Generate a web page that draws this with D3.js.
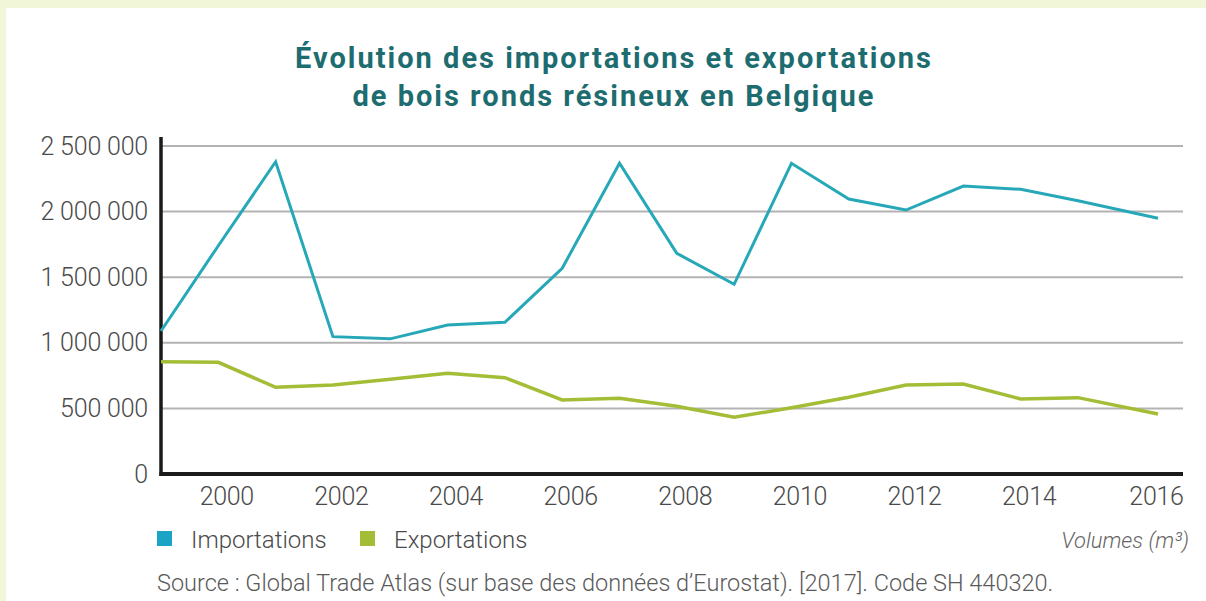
<!DOCTYPE html>
<html>
<head>
<meta charset="utf-8">
<script src="https://cdn.jsdelivr.net/npm/d3@7"></script>
<style>
  html, body { margin: 0; padding: 0; background: #f2f6d9; }
  svg { display: block; }
</style>
</head>
<body>
<svg id="chart" width="1206" height="601"></svg>
<script>
// ---- data ----
const years = [1999, 2000, 2001, 2002, 2003, 2004, 2005, 2006, 2007, 2008, 2009, 2010, 2011, 2012, 2013, 2014, 2015, 2016];
const importations = [1090000, 1740000, 2380000, 1047000, 1030000, 1136000, 1156000, 1568000, 2368000, 1682000, 1446000, 2368000, 2096000, 2012000, 2195000, 2170000, 2083000, 1949000];
const exportations = [856000, 851000, 661000, 678000, 722000, 767000, 734000, 564000, 577000, 516000, 432000, 505000, 585000, 678000, 686000, 572000, 582000, 457000];
const yTicks = [0, 500000, 1000000, 1500000, 2000000, 2500000];
const xTicks = [2000, 2002, 2004, 2006, 2008, 2010, 2012, 2014, 2016];
const seriesNames = ["Importations", "Exportations"];
const titleLines = ["Évolution des importations et exportations", "de bois ronds résineux en Belgique"];
const unitLabel = "Volumes (m³)";
const sourceText = "Source : Global Trade Atlas (sur base des données d’Eurostat). [2017]. Code SH 440320.";

(function () {
// ---- styles ----
const colImp = "#26a8b8";
const colExp = "#a4bd36";
const colTitle = "#1d6c70";
const colText = "#4a4a4a";
const fontFam = "'Roboto', 'Liberation Sans', sans-serif";

const svg = d3.select("#chart");

// white panel
svg.append("rect").attr("x", 6).attr("y", 8).attr("width", 1200).attr("height", 593).attr("fill", "#ffffff");

const mLeft = 161, mRight = 1183, mTop = 146, mBottom = 474;

const x = d3.scaleLinear()
  .domain([1999, 2015, 2016])
  .range([mLeft, 1078, 1158]);
const y = d3.scaleLinear().domain([0, 2500000]).range([mBottom, mTop]);

// title
svg.append("g").selectAll("text").data(titleLines).join("text")
  .attr("x", 614).attr("y", (d, i) => 68 + i * 38)
  .attr("text-anchor", "middle")
  .attr("font-family", fontFam).attr("font-weight", 700)
  .attr("font-size", 29).attr("fill", colTitle)
  .attr("letter-spacing", 2)
  .text(d => d);

// gridlines
svg.append("g").selectAll("line").data(yTicks.filter(d => d > 0)).join("line")
  .attr("x1", mLeft).attr("x2", mRight)
  .attr("y1", d => y(d)).attr("y2", d => y(d))
  .attr("stroke", "#b3b3b3").attr("stroke-width", 2);

// y axis
const yAxis = svg.append("g").attr("transform", `translate(${mLeft},0)`)
  .call(d3.axisLeft(y).tickValues(yTicks).tickSize(0).tickPadding(13)
    .tickFormat(d => d3.format(",")(d).replace(/,/g, " ")));
yAxis.select(".domain").remove();
yAxis.selectAll("text")
  .attr("font-family", fontFam).attr("font-weight", 300)
  .attr("font-size", 25).attr("fill", colText).attr("letter-spacing", -0.2);
svg.append("line").attr("x1", mLeft).attr("x2", mLeft).attr("y1", 137).attr("y2", mBottom + 2)
  .attr("stroke", "#1a1a1a").attr("stroke-width", 3.5);

// x axis
const xAxis = svg.append("g").attr("transform", `translate(0,${mBottom})`)
  .call(d3.axisBottom(x).tickValues(xTicks).tickSize(0).tickPadding(13).tickFormat(d3.format("d")));
xAxis.select(".domain").remove();
xAxis.selectAll("text")
  .attr("font-family", fontFam).attr("font-weight", 300)
  .attr("font-size", 25).attr("fill", colText).attr("letter-spacing", -0.3)
  .attr("dx", d => d === 2016 ? -2 : 8);
svg.append("line").attr("x1", mLeft - 1.5).attr("x2", mRight).attr("y1", mBottom).attr("y2", mBottom)
  .attr("stroke", "#1a1a1a").attr("stroke-width", 4);

// lines
const line = d3.line().x((d, i) => x(years[i])).y(d => y(d));
svg.append("path").datum(exportations).attr("d", line)
  .attr("fill", "none").attr("stroke", colExp).attr("stroke-width", 3.5).attr("stroke-linejoin", "miter");
svg.append("path").datum(importations).attr("d", line)
  .attr("fill", "none").attr("stroke", colImp).attr("stroke-width", 3).attr("stroke-linejoin", "miter");

// legend
const legendX = [157, 360];
const lg = svg.append("g").selectAll("g").data(seriesNames).join("g")
  .attr("transform", (d, i) => `translate(${legendX[i]},531)`);
lg.append("rect").attr("width", 15).attr("height", 15)
  .attr("fill", (d, i) => i === 0 ? "#1ba4c6" : colExp);
lg.append("text").attr("x", 34).attr("y", 16.5)
  .attr("font-family", fontFam).attr("font-weight", 300)
  .attr("font-size", 24).attr("fill", colText)
  .text(d => d);

// unit label
svg.append("text").attr("x", 1189).attr("y", 548).attr("text-anchor", "end")
  .attr("font-family", fontFam).attr("font-weight", 300).attr("font-style", "italic")
  .attr("font-size", 22).attr("fill", "#666").text(unitLabel);

// source
svg.append("text").attr("x", 157).attr("y", 591)
  .attr("font-family", fontFam).attr("font-weight", 300)
  .attr("font-size", 23.5).attr("fill", "#5a5a5a")
  .text(sourceText);
})();
</script>
</body>
</html>
